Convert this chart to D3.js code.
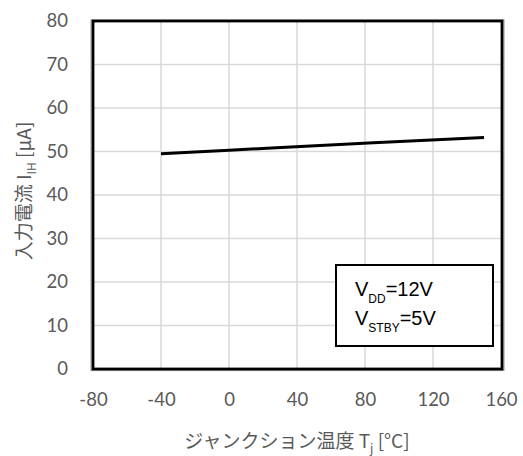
<!DOCTYPE html>
<html><head><meta charset="utf-8">
<script src="https://cdn.jsdelivr.net/npm/d3@7"></script>
<style>body{margin:0;background:#fff}svg{display:block}</style>
</head><body>
<script>
const temps = [-40, 0, 25, 85, 150];
const currents = [49.5, 50.3, 50.8, 52.0, 53.2];
const xTicks = [-80, -40, 0, 40, 80, 120, 160];
const yTicks = [0, 10, 20, 30, 40, 50, 60, 70, 80];
const legendLines = [["V", "DD", "=12V"], ["V", "STBY", "=5V"]];

const W = 523, H = 456;
const svg = d3.select("body").append("svg").attr("width", W).attr("height", H);
const x = d3.scaleLinear().domain([-80, 160]).range([93, 501]);
const y = d3.scaleLinear().domain([0, 80]).range([369, 21]);
const tickFont = "Lato, 'Open Sans', sans-serif";

// gridlines
svg.append("g").selectAll("line").data(xTicks.slice(1, -1)).join("line")
  .attr("x1", d => x(d)).attr("x2", d => x(d)).attr("y1", y(0)).attr("y2", y(80))
  .attr("stroke", "#d9d9d9").attr("stroke-width", 1.5);
svg.append("g").selectAll("line").data(yTicks.slice(1, -1)).join("line")
  .attr("x1", x(-80)).attr("x2", x(160)).attr("y1", d => y(d)).attr("y2", d => y(d))
  .attr("stroke", "#d9d9d9").attr("stroke-width", 1.5);

// frame: gray outer, black inner
svg.append("rect").attr("x", 91).attr("y", 20).attr("width", 413).attr("height", 350.5)
  .attr("fill", "none").attr("stroke", "#a6a6a6").attr("stroke-width", 1.2);
svg.append("rect").attr("x", x(-80)).attr("y", y(80)).attr("width", x(160) - x(-80) + 1).attr("height", y(0) - y(80))
  .attr("fill", "none").attr("stroke", "#000").attr("stroke-width", 2.8);

// axes labels via d3 axes
const xAxis = svg.append("g").attr("transform", `translate(0,${y(0)})`)
  .call(d3.axisBottom(x).tickValues(xTicks).tickSize(0).tickPadding(24).tickFormat(d => String(d)));
xAxis.select(".domain").remove();
xAxis.selectAll("text").attr("font-family", tickFont).attr("font-size", 18.5).attr("fill", "#595959");

const yAxis = svg.append("g").attr("transform", `translate(${x(-80)},0)`)
  .call(d3.axisLeft(y).tickValues(yTicks).tickSize(0).tickPadding(25).tickFormat(d => String(d)));
yAxis.select(".domain").remove();
yAxis.selectAll("text").attr("font-family", tickFont).attr("font-size", 18.5).attr("fill", "#595959");

// data line
svg.append("path").datum(temps.map((t, i) => [t, currents[i]]))
  .attr("d", d3.line().x(d => x(d[0])).y(d => y(d[1])))
  .attr("fill", "none").attr("stroke", "#000").attr("stroke-width", 3);

// legend box
svg.append("rect").attr("x", 336).attr("y", 265).attr("width", 157).attr("height", 81)
  .attr("fill", "#fff").attr("stroke", "#000").attr("stroke-width", 2);
legendLines.forEach((l, i) => {
  const t = svg.append("text").attr("x", 355).attr("y", 296 + i * 29)
    .attr("font-family", "'Liberation Sans', Arial, sans-serif").attr("font-size", 20).attr("fill", "#000");
  t.append("tspan").text(l[0]);
  t.append("tspan").attr("font-size", 12).attr("dy", 6.5).text(l[1]);
  t.append("tspan").attr("dy", -6.5).text(l[2]);
});

// axis titles
const cjk = "'Noto Sans CJK JP', sans-serif";
const xt = svg.append("text").attr("x", 297).attr("y", 448).attr("text-anchor", "middle")
  .attr("font-family", cjk).attr("font-size", 19).attr("fill", "#595959");
xt.append("tspan").text("ジャンクション温度 T");
xt.append("tspan").attr("font-size", 12).attr("dy", 5).text("j");
xt.append("tspan").attr("dy", -5).text(" [°C]");

const yt = svg.append("text").attr("transform", "translate(31,191) rotate(-90)").attr("text-anchor", "middle")
  .attr("font-family", cjk).attr("font-size", 19).attr("fill", "#595959");
yt.append("tspan").text("入力電流 I");
yt.append("tspan").attr("font-size", 12).attr("dy", 5).text("IH");
yt.append("tspan").attr("dy", -5).text(" [μA]");
</script>
</body></html>
